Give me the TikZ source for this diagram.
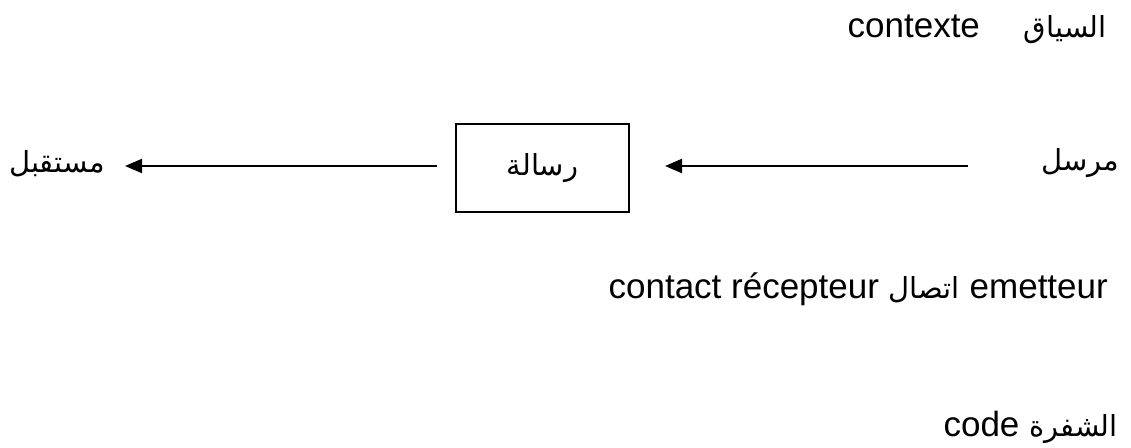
\documentclass[tikz,border=0pt]{standalone}
\usepackage{fontspec}
\setmainfont{Liberation Sans}
\newfontfamily\arabicfont[Script=Arabic]{DejaVu Sans}
\TeXXeTstate=1
\usetikzlibrary{arrows.meta}
\newcommand\ar[1]{{\arabicfont\fontsize{29}{34}\selectfont\beginR #1\endR}}
\begin{document}
\begin{tikzpicture}[x=1pt,y=-1pt,
  txt/.style={inner sep=0pt,font=\fontsize{35}{40}\selectfont},
  msgbox/.style={draw,line width=1.6pt,minimum width=173pt,minimum height=88pt,inner sep=0pt},
  arr/.style={line width=2pt,-{Triangle[length=17pt,width=14pt]}}]
\useasboundingbox (0,0) rectangle (1131,447);
\node[txt,anchor=base east] (ctx) at (1107,37) {contexte\hspace{44pt}\ar{السياق}};
\node[txt] (recv) at (57,164) {\ar{مستقبل}};
\node[msgbox] (msg) at (542.5,168) {\ar{رسالة}};
\node[txt] (send) at (1080,163) {\ar{مرسل}};
\coordinate (a1s) at (437,166);
\coordinate (a1e) at (125,166);
\coordinate (a2s) at (968,166);
\coordinate (a2e) at (665,166);
\draw[arr] (a1s) -- (a1e);
\draw[arr] (a2s) -- (a2e);
\node[txt,anchor=base east] (cnt) at (1108,298) {contact récepteur \ar{اتصال} emetteur};
\node[txt,anchor=base east] (code) at (1118,436) {code \ar{الشفرة}};
\end{tikzpicture}
\end{document}
